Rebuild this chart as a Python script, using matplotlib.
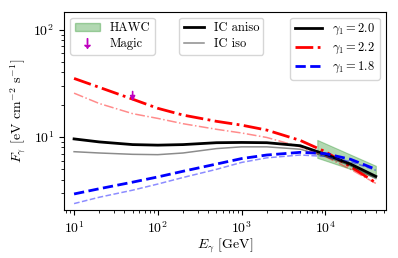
import matplotlib

matplotlib.use("Agg")
import matplotlib.pyplot as plt
from matplotlib.lines import Line2D
from matplotlib.patches import Patch

plt.rcParams["font.family"] = "serif"
plt.rcParams["font.serif"] = ["cmr10"]
plt.rcParams["mathtext.fontset"] = "cm"
plt.rcParams["axes.formatter.use_mathtext"] = True
plt.rcParams["axes.unicode_minus"] = False

# photon energy grid [GeV]
energy = [10, 20, 50, 100, 200, 500, 1000, 2000, 5000, 10000, 20000, 40000]

# gamma_1 = 2.0
f20_aniso = [9.6, 9.0, 8.5, 8.4, 8.5, 8.85, 8.9, 8.85, 8.3, 6.9, 5.6, 4.3]
f20_iso = [7.3, 7.1, 6.9, 6.85, 7.1, 7.8, 8.1, 8.1, 7.7, 6.6, 5.4, 4.1]
# gamma_1 = 2.2
f22_aniso = [35.1, 29.0, 22.5, 18.5, 16.0, 14.0, 12.9, 11.6, 9.3, 7.3, 5.3, 3.75]
f22_iso = [25.6, 20.5, 16.5, 14.9, 13.3, 11.8, 10.9, 9.9, 8.1, 6.6, 5.0, 3.7]
# gamma_1 = 1.8
f18_aniso = [2.95, 3.3, 3.8, 4.25, 4.8, 5.6, 6.3, 6.8, 7.2, 7.0, 6.2, 5.0]
f18_iso = [2.4, 2.75, 3.2, 3.65, 4.2, 5.0, 5.8, 6.4, 6.8, 6.6, 5.9, 4.9]

# HAWC band
hawc_e = [8000, 40000]
hawc_hi = [9.4, 5.4]
hawc_lo = [6.4, 4.2]

# Magic upper limit
magic_e = 50
magic_f = 26.5
magic_tip = 21.5

fig = plt.figure(figsize=(3.98, 2.58), dpi=100)
ax = fig.add_axes([0.161, 0.185, 0.809, 0.770])

ax.fill_between(hawc_e, hawc_lo, hawc_hi, color="green", alpha=0.3, lw=0.8)

ax.plot(energy, f22_aniso, color="red", ls="-.", lw=2.0)
ax.plot(energy, f22_iso, color="red", ls="-.", lw=1.1, alpha=0.45)
ax.plot(energy, f20_aniso, color="black", ls="-", lw=2.0)
ax.plot(energy, f20_iso, color="black", ls="-", lw=1.1, alpha=0.45)
ax.plot(energy, f18_aniso, color="blue", ls="--", lw=2.0)
ax.plot(energy, f18_iso, color="blue", ls="--", lw=1.1, alpha=0.45)

# Magic upper limit as a downward arrow
ax.annotate("", xy=(magic_e, magic_tip), xytext=(magic_e, magic_f),
            arrowprops=dict(arrowstyle="-|>", color="m", lw=1.2,
                            mutation_scale=7, shrinkA=0, shrinkB=0))

ax.set_xscale("log")
ax.set_yscale("log")
ax.set_xlim(7.6, 5.3e4)
ax.set_ylim(2.08, 147)
ax.set_xlabel(r"$E_\gamma$ [GeV]", fontsize=10, labelpad=1)
ax.set_ylabel(r"$F_\gamma$ [eV cm$^{-2}$ s$^{-1}$]", fontsize=10)
ax.tick_params(labelsize=10)

h1 = [Patch(facecolor="green", alpha=0.3, edgecolor="green"),
      Line2D([], [], color="m", marker=r"$\downarrow$", ls="none", ms=7)]
leg1 = ax.legend(h1, ["HAWC", "Magic"], loc="upper left", fontsize=9,
                 handlelength=2.0, borderpad=0.35, labelspacing=0.3)
ax.add_artist(leg1)

h2 = [Line2D([], [], color="black", lw=2.0),
      Line2D([], [], color="black", lw=1.1, alpha=0.45)]
leg2 = ax.legend(h2, ["IC aniso", "IC iso"], loc="upper left", fontsize=9,
                 bbox_to_anchor=(0.338, 1.0), handlelength=1.6,
                 borderpad=0.35, labelspacing=0.3)
ax.add_artist(leg2)

h3 = [Line2D([], [], color="black", lw=2.0),
      Line2D([], [], color="red", ls="-.", lw=2.0),
      Line2D([], [], color="blue", ls="--", lw=2.0)]
ax.legend(h3, [r"$\gamma_1 = 2.0$", r"$\gamma_1 = 2.2$", r"$\gamma_1 = 1.8$"],
          loc="upper right", fontsize=9, handlelength=2.2,
          borderpad=0.35, labelspacing=0.3)

fig.savefig("out.png", dpi=100)
